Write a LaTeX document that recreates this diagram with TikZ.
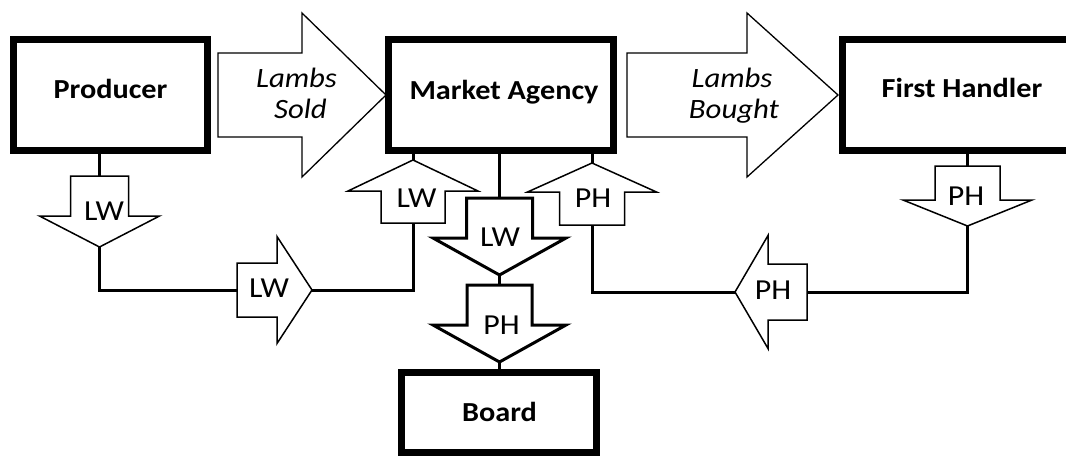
\documentclass[tikz,border=0pt]{standalone}
\usepackage{fontspec}
\newfontfamily\lblf{Carlito}[FakeStretch=1.1]
\begin{document}
\begin{tikzpicture}[x=1pt,y=-1pt,
  box/.style={draw, line width=7pt, inner sep=0pt, fill=white},
  boxlabel/.style={font=\lblf\bfseries\fontsize{27.5}{33}\selectfont, anchor=base, inner sep=0pt},
  itlabel/.style={font=\lblf\itshape\fontsize{28}{34}\selectfont, anchor=base, inner sep=0pt},
  smalllabel/.style={font=\lblf\fontsize{29}{35}\selectfont, inner sep=0pt},
  conn/.style={line width=3pt},
  thinarrow/.style={draw, line width=1.5pt, fill=white, line join=miter},
  thickarrow/.style={draw, line width=3pt, fill=white, line join=miter},
  bigarrow/.style={draw, line width=1.3pt, fill=white, line join=miter}]
\clip (0,0) rectangle (1066,456);
\fill[white] (0,0) rectangle (1066,456);

% boxes
\node[box, minimum width=194pt, minimum height=111pt] (prod) at (110.5,95) {};
\node[box, minimum width=225pt, minimum height=111pt] (mkt) at (501,95) {};
\node[box, minimum width=239pt, minimum height=111pt] (fh) at (962,95) {};
\node[box, minimum width=195pt, minimum height=80pt] (board) at (499,412.5) {};

\node[boxlabel] (prodT) at (110.5,98) {Producer};
\node[boxlabel] (mktT) at (504,99) {Market Agency};
\node[boxlabel] (fhT) at (962,97) {First Handler};
\node[boxlabel] (boardT) at (499.5,421.5) {Board};

% arrow end points
\coordinate (lwAtop) at (99.5,176);  \coordinate (lwAtip) at (99.5,247);
\coordinate (lwBtail) at (237,290);  \coordinate (lwBtip) at (312,290);
\coordinate (lwCbot) at (413,223);   \coordinate (lwCtip) at (413,160);
\coordinate (lwDtop) at (499.5,198); \coordinate (lwDtip) at (499.5,275);
\coordinate (phEtop) at (499.5,285); \coordinate (phEtip) at (499.5,362);
\coordinate (phFbot) at (592,225);   \coordinate (phFtip) at (592,163);
\coordinate (phGtip) at (735,292);   \coordinate (phGtail) at (807,292);
\coordinate (phHtop) at (967.5,166); \coordinate (phHtip) at (967.5,226);

% connectors
\draw[conn] (prod.south -| lwAtop) -- (lwAtop);
\draw[conn] (lwAtip) |- (lwBtail);
\draw[conn] (lwBtip) -| (lwCbot);
\draw[conn] (lwCtip) -- (lwCtip |- mkt.south);
\draw[conn] (mkt.south -| lwDtop) -- (lwDtop);
\draw[conn] (lwDtip) -- (phEtop);
\draw[conn] (phEtip) -- (board.north -| phEtip);
\draw[conn] (phFtip) -- (phFtip |- mkt.south);
\draw[conn] (phFbot) |- (phGtip);
\draw[conn] (phGtail) -| (phHtip);
\draw[conn] (fh.south -| phHtop) -- (phHtop);

% big arrows
\draw[bigarrow] (218,53) -- (302,53) -- (302,13) -- (386,95) -- (302,177) -- (302,137) -- (218,137) -- cycle;
\draw[bigarrow] (627,53) -- (747,53) -- (747,13) -- (838,95) -- (747,177) -- (747,137) -- (627,137) -- cycle;
\node[itlabel] (sold1) at (296.5,87) {Lambs};
\node[itlabel] (sold2) at (300.5,118.5) {Sold};
\node[itlabel] (bought1) at (732,87) {Lambs};
\node[itlabel] (bought2) at (734,118) {Bought};

% small arrows
\draw[thinarrow] (70.5,176) -- (128.5,176) -- (128.5,216) -- (159.5,216) -- (lwAtip) -- (39.5,216) -- (70.5,216) -- cycle;
\draw[thinarrow] (lwBtail) ++(0,-27) -- (277,263) -- (277,236.5) -- (lwBtip) -- (277,343.5) -- (277,317) -- (237,317) -- cycle;
\draw[thinarrow] (381,223) -- (445,223) -- (445,191) -- (478,191) -- (lwCtip) -- (348,191) -- (381,191) -- cycle;
\draw[thickarrow] (466.5,198) -- (532.5,198) -- (532.5,238) -- (566,238) -- (lwDtip) -- (433,238) -- (466.5,238) -- cycle;
\draw[thickarrow] (467,285) -- (532,285) -- (532,325) -- (566,325) -- (phEtip) -- (433,325) -- (467,325) -- cycle;
\draw[thinarrow] (559.5,225) -- (624.5,225) -- (624.5,192) -- (656.5,192) -- (phFtip) -- (527.5,192) -- (559.5,192) -- cycle;
\draw[thinarrow] (phGtail) ++(0,-28) -- (768,264) -- (768,235.5) -- (phGtip) -- (768,348.5) -- (768,320) -- (807,320) -- cycle;
\draw[thinarrow] (935,166) -- (1000,166) -- (1000,200) -- (1032,200) -- (phHtip) -- (903,200) -- (935,200) -- cycle;

\node[smalllabel] (lwA) at (104,211) {LW};
\node[smalllabel] (lwB) at (269,288) {LW};
\node[smalllabel] (lwC) at (416.5,198) {LW};
\node[smalllabel] (lwD) at (500,237) {LW};
\node[smalllabel] (phE) at (501.5,325) {PH};
\node[smalllabel] (phF) at (593,198) {PH};
\node[smalllabel] (phG) at (773,290) {PH};
\node[smalllabel] (phH) at (966,196) {PH};
\end{tikzpicture}
\end{document}
